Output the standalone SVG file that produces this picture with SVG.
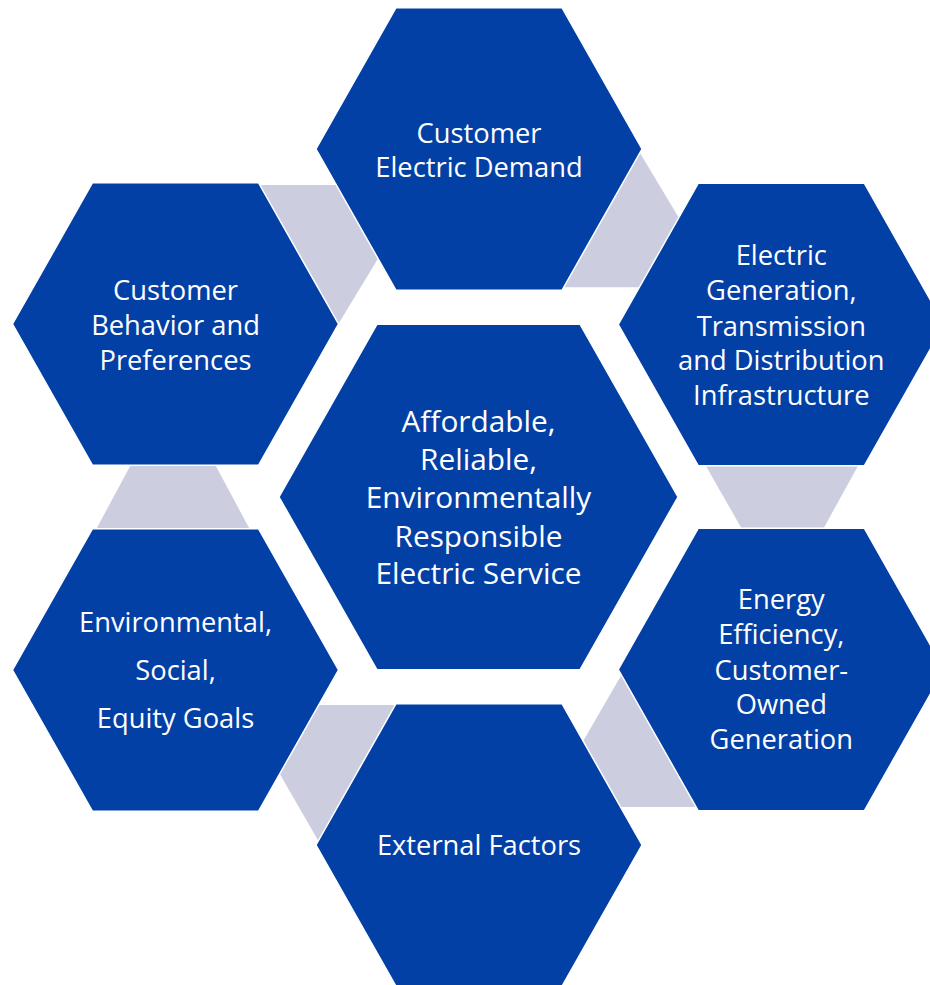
<svg xmlns="http://www.w3.org/2000/svg" width="930" height="985" viewBox="0 0 930 985">
<style>
.hex{fill:#0340A6;stroke:#ffffff;stroke-width:1.5;stroke-linejoin:miter}
.gap{fill:#CCCEE0}
.t{font-family:"Open Sans","Noto Sans","Liberation Sans",sans-serif;fill:#ffffff;text-anchor:middle;font-size:27.3px}
.c{font-size:29.8px}
</style>
<rect width="930" height="985" fill="#ffffff"/>
<g id="connectors">
<polygon class="gap" points="250,185 340,185 379,257 338,324.5 320,315"/>
<polygon class="gap" points="640,153 679,218 700,250 660,287.3 558,287.3"/>
<polygon class="gap" points="705.4,465 858.5,465 823.2,529 741.9,529"/>
<polygon class="gap" points="622,674 580.6,745.6 615,807 700,807"/>
<polygon class="gap" points="312,705 398,705 320,843.7 277.5,770"/>
<polygon class="gap" points="130.7,465 215.3,465 250.2,530 95.8,530"/>
</g>
<g id="node-top">
<polygon class="hex" points="316,149 396,7.7 562,7.7 642,149 562,290.3 396,290.3"/>
<text class="t" x="479" y="143">Customer</text>
<text class="t" x="479" y="177">Electric Demand</text>
</g>
<g id="node-upper-left">
<polygon class="hex" points="12.5,324 92.5,182.7 258.5,182.7 338.5,324 258.5,465.3 92.5,465.3"/>
<text class="t" x="175.5" y="299.5">Customer</text>
<text class="t" x="175.5" y="335">Behavior and</text>
<text class="t" x="175.5" y="370">Preferences</text>
</g>
<g id="node-upper-right">
<polygon class="hex" points="618.3,324.5 698.3,183.2 864.3,183.2 944.3,324.5 864.3,465.8 698.3,465.8"/>
<text class="t" x="781.3" y="264.5">Electric</text>
<text class="t" x="781.3" y="300">Generation,</text>
<text class="t" x="781.3" y="335.5">Transmission</text>
<text class="t" x="781.3" y="370">and Distribution</text>
<text class="t" x="781.3" y="405">Infrastructure</text>
</g>
<g id="node-center">
<polygon class="hex" points="279,497 377,324.2 580,324.2 678,497 580,669.8 377,669.8"/>
<text class="t c" x="478.5" y="431.7">Affordable,</text>
<text class="t c" x="478.5" y="470">Reliable,</text>
<text class="t c" x="478.5" y="507.7">Environmentally</text>
<text class="t c" x="478.5" y="546.5">Responsible</text>
<text class="t c" x="478.5" y="584.3">Electric Service</text>
</g>
<g id="node-lower-left">
<polygon class="hex" points="12.5,670 92.5,528.7 258.5,528.7 338.5,670 258.5,811.3 92.5,811.3"/>
<text class="t" x="175.5" y="631.7">Environmental,</text>
<text class="t" x="175.5" y="680">Social,</text>
<text class="t" x="175.5" y="728.3">Equity Goals</text>
</g>
<g id="node-lower-right">
<polygon class="hex" points="618.3,669.5 698.3,528.2 864.3,528.2 944.3,669.5 864.3,810.8 698.3,810.8"/>
<text class="t" x="781.3" y="609">Energy</text>
<text class="t" x="781.3" y="644">Efficiency,</text>
<text class="t" x="781.3" y="680">Customer-</text>
<text class="t" x="781.3" y="714.3">Owned</text>
<text class="t" x="781.3" y="749.3">Generation</text>
</g>
<g id="node-bottom">
<polygon class="hex" points="316,845 396,703.7 562,703.7 642,845 562,986.3 396,986.3"/>
<text class="t" x="479" y="855">External Factors</text>
</g>
</svg>
